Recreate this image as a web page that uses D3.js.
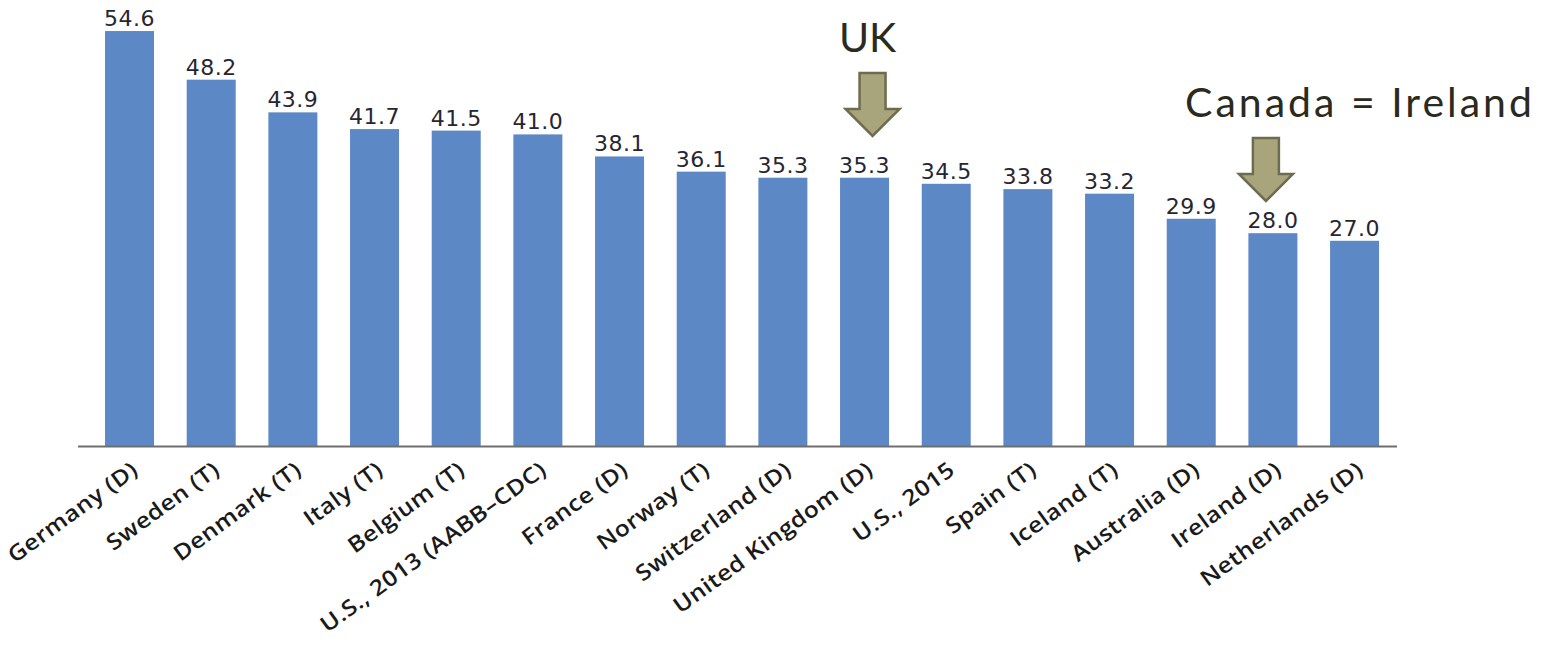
<!DOCTYPE html>
<html><head><meta charset="utf-8">
<script src="https://cdn.jsdelivr.net/npm/d3@7"></script>
<style>body{margin:0;background:#fff}svg{display:block}</style>
</head><body>
<svg id="c" width="1544" height="645"></svg>
<script>
const categories = ["Germany (D)","Sweden (T)","Denmark (T)","Italy (T)","Belgium (T)","U.S., 2013 (AABB\u2013CDC)","France (D)","Norway (T)","Switzerland (D)","United Kingdom (D)","U.S., 2015","Spain (T)","Iceland (T)","Australia (D)","Ireland (D)","Netherlands (D)"];
const values = [54.6,48.2,43.9,41.7,41.5,41.0,38.1,36.1,35.3,35.3,34.5,33.8,33.2,29.9,28.0,27.0];
const annotations = [{cat:"United Kingdom (D)", text:"UK"},{cat:"Ireland (D)", text:"Canada = Ireland"}];

const svg = d3.select("#c");
const x = d3.scaleBand().domain(categories).range([88.7, 1395.4]).paddingInner(0.4).paddingOuter(0.2);
const y = d3.scaleLinear().domain([0, 60]).range([446, -10]);

svg.append("g").selectAll("rect").data(values).join("rect")
  .attr("x",(d,i)=>x(categories[i]))
  .attr("y",d=>y(d))
  .attr("width",x.bandwidth())
  .attr("height",d=>y(0)-y(d))
  .attr("fill","#5d88c6");

svg.append("line").attr("x1",78).attr("x2",1397).attr("y1",y(0)+0.5).attr("y2",y(0)+0.5)
  .attr("stroke","#6e6e6e").attr("stroke-width",2);

svg.append("g").selectAll("text").data(values).join("text")
  .attr("x",(d,i)=>x(categories[i])+x.bandwidth()/2)
  .attr("y",d=>y(d)-5)
  .attr("text-anchor","middle")
  .attr("font-family","DejaVu Sans")
  .attr("font-size",22)
  .attr("letter-spacing",0.5)
  .attr("fill","#262633")
  .text(d=>d.toFixed(1));

const xAxis = d3.axisBottom(x).tickSize(0).tickPadding(0);
const gx = svg.append("g").attr("transform",`translate(0,${y(0)})`).call(xAxis);
gx.select(".domain").remove();
gx.selectAll(".tick text")
  .attr("font-family","Open Sans")
  .attr("font-weight",600)
  .attr("font-size",22)
  .attr("letter-spacing",0.4)
  .attr("fill","#1a1a1a")
  .attr("text-anchor","end")
  .attr("y",0)
  .attr("dy",0)
  .attr("transform","translate(10,27) rotate(-36) scale(1.12,1)");

const arrowShape = [[-13,0],[13,0],[13,36],[27,36],[0,63],[-27,36],[-13,36]];
const annOffsets = {"United Kingdom (D)":{dx:8, top:73, ty:52, tx:0, ls:0}, "Ireland (D)":{dx:-7, top:138, ty:117, tx:1360, ls:3}};
annotations.forEach(a=>{
  const o = annOffsets[a.cat];
  const cx = x(a.cat)+x.bandwidth()/2+o.dx;
  svg.append("path")
    .attr("d", d3.line()(arrowShape.map(p=>[cx+p[0], o.top+p[1]]))+"Z")
    .attr("fill","#a8a57c").attr("stroke","#6d6c4e").attr("stroke-width",2.5).attr("stroke-linejoin","miter");
  svg.append("text")
    .attr("x", o.tx || cx-5)
    .attr("y", o.ty)
    .attr("text-anchor","middle")
    .attr("font-family","Lato")
    .attr("font-size",41)
    .attr("letter-spacing",o.ls)
    .attr("fill","#2a2a20")
    .text(a.text);
});
</script>
</body></html>
